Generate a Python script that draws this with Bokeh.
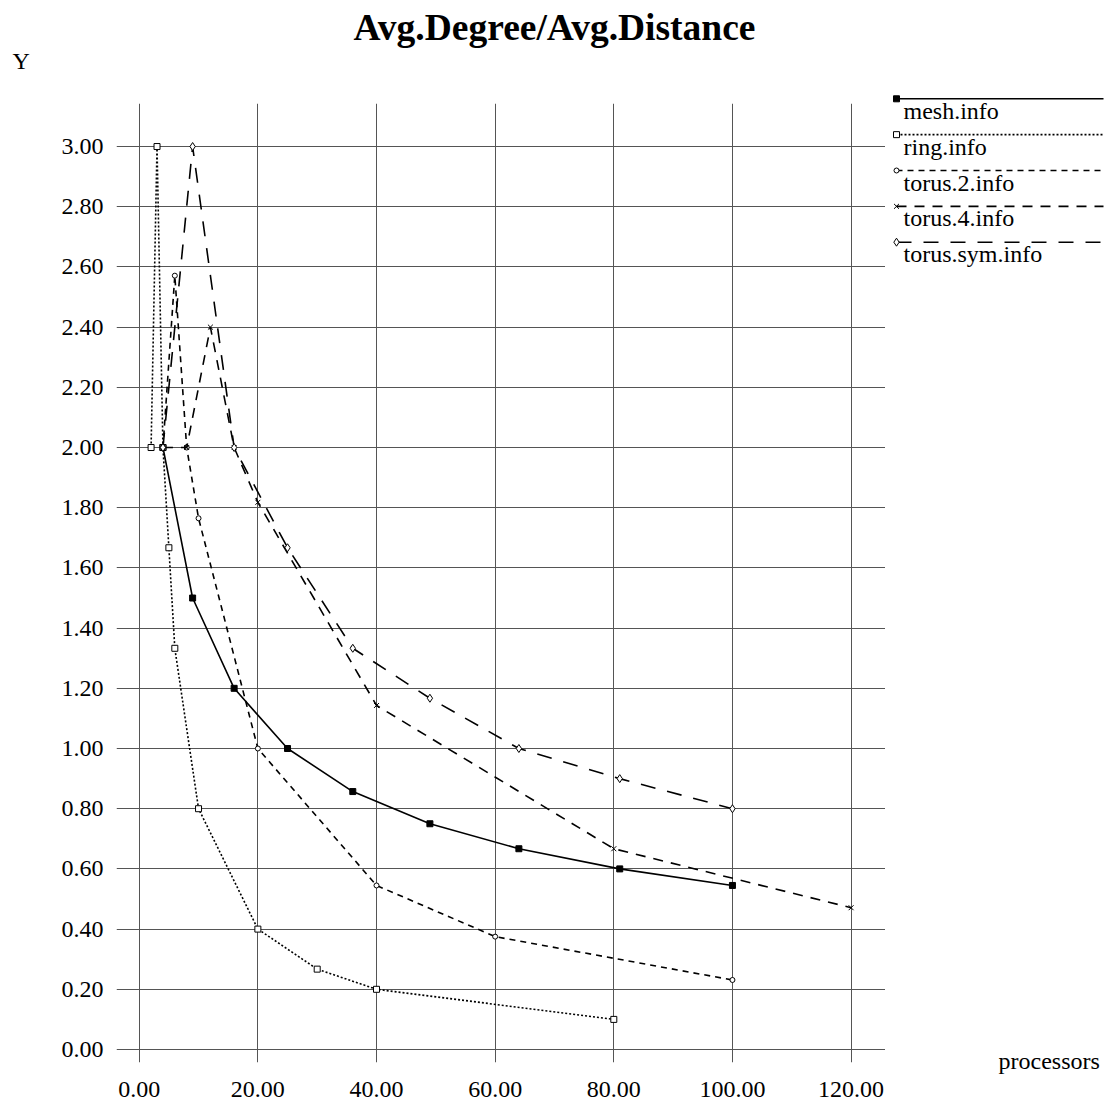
from bokeh.plotting import figure
from bokeh.models import Range1d, FixedTicker, NumeralTickFormatter
from bokeh.layouts import row, column
from bokeh.core.properties import value
from bokeh.embed import file_html
from bokeh.resources import INLINE

# ---- data ----
mesh_x = [4, 9, 16, 25, 36, 49, 64, 81, 100]
mesh_y = [2.0, 1.5, 1.2, 1.0, 0.857, 0.75, 0.667, 0.6, 0.545]

ring_x = [2, 3, 4, 5, 6, 10, 20, 30, 40, 80]
ring_y = [2.0, 3.0, 2.0, 1.667, 1.333, 0.8, 0.4, 0.267, 0.2, 0.1]

torus2_x = [4, 6, 8, 10, 20, 40, 60, 100]
torus2_y = [2.0, 2.571, 2.0, 1.765, 1.0, 0.545, 0.375, 0.231]

torus4_x = [4, 8, 12, 16, 20, 40, 80, 120]
torus4_y = [2.0, 2.0, 2.4, 2.0, 1.818, 1.143, 0.667, 0.471]

torussym_x = [4, 9, 16, 25, 36, 49, 64, 81, 100]
torussym_y = [2.0, 3.0, 2.0, 1.667, 1.333, 1.167, 1.0, 0.9, 0.8]

series_names = ["mesh.info", "ring.info", "torus.2.info", "torus.4.info", "torus.sym.info"]
x_ticks = [0, 20, 40, 60, 80, 100, 120]
y_ticks = [0.0, 0.2, 0.4, 0.6, 0.8, 1.0, 1.2, 1.4, 1.6, 1.8, 2.0, 2.2, 2.4, 2.6, 2.8, 3.0]

title_text = "Avg.Degree/Avg.Distance"
x_label = "processors"
y_label = "Y"

# ---- styles ----
FONT = "Liberation Serif"
FS = "24px"
styles = [
    dict(dash="solid", marker="square", size=6, fill="black"),
    dict(dash="2 2", marker="square", size=6, fill="white"),
    dict(dash="6 5", marker="circle", size=5, fill="white"),
    dict(dash="10 8", marker="x", size=7, fill="white"),
    dict(dash="15 12", marker="diamond", size=8, fill="white"),
]
data = [(mesh_x, mesh_y), (ring_x, ring_y), (torus2_x, torus2_y),
        (torus4_x, torus4_y), (torussym_x, torussym_y)]

W, H = 1108, 1105
TOP_H = 90
MAIN_W = 885
BODY_H = H - TOP_H


def blank(width, height, xr, yr):
    f = figure(width=width, height=height, output_backend="svg", toolbar_location=None,
               title=None, x_range=xr, y_range=yr,
               min_border=0, min_border_left=0, min_border_right=0,
               min_border_top=0, min_border_bottom=0)
    f.axis.visible = False
    f.grid.visible = False
    f.outline_line_color = None
    f.background_fill_color = "white"
    f.border_fill_color = "white"
    f.frame_align = False
    return f


# ---- top strip: title and y label ----
top = blank(W, TOP_H, Range1d(0, W), Range1d(TOP_H, 0))
top.text([554], [27], text=[title_text], text_font=value(FONT), text_font_size="37.5px",
         text_font_style="bold", text_align="center", text_baseline="alphabetic",
         text_color="black")
top.text([12], [60], text=[y_label], text_font=value(FONT), text_font_size=FS,
         text_align="left", text_baseline="alphabetic", text_color="black")

# ---- main chart ----
p = figure(width=MAIN_W, height=BODY_H, output_backend="svg", toolbar_location=None,
           title=None,
           x_range=Range1d(-3.83, 125.8), y_range=Range1d(-0.0432, 3.143),
           min_border_left=116, min_border_right=0, min_border_top=103 - TOP_H,
           min_border_bottom=H - 1062)
p.frame_align = False
p.outline_line_color = None
p.background_fill_color = "white"
p.border_fill_color = "white"

for ax in (p.xaxis, p.yaxis):
    ax.axis_line_color = None
    ax.major_tick_line_color = None
    ax.minor_tick_line_color = None
    ax.major_tick_out = 0
    ax.major_tick_in = 0
    ax.minor_tick_out = 0
    ax.major_label_text_font = FONT
    ax.major_label_text_font_size = FS
    ax.major_label_text_color = "black"
    ax.formatter = NumeralTickFormatter(format="0.00")
p.xaxis.ticker = FixedTicker(ticks=x_ticks)
p.yaxis.ticker = FixedTicker(ticks=y_ticks)
p.xaxis.major_label_standoff = 19
p.yaxis.major_label_standoff = 13

p.xgrid.ticker = FixedTicker(ticks=x_ticks)
p.ygrid.ticker = FixedTicker(ticks=y_ticks)
for g in (p.xgrid, p.ygrid):
    g.grid_line_color = "#555555"
    g.grid_line_width = 1

for (xs, ys), st in zip(data, styles):
    p.line(xs, ys, line_color="black", line_width=1.6, line_dash=st["dash"])
    p.scatter(xs, ys, marker=st["marker"], size=st["size"], line_color="black",
              fill_color=st["fill"], line_width=1)

# ---- legend panel on the right (pixel rows of the page) ----
lg = blank(W - MAIN_W, BODY_H, Range1d(MAIN_W, W), Range1d(H, TOP_H))

x0, x1 = 896, 1103
for i, (name, st) in enumerate(zip(series_names, styles)):
    ly = 98.3 + 35.85 * i
    lg.line([x0, x1], [ly, ly], line_color="black", line_width=1.6, line_dash=st["dash"])
    lg.scatter([x0], [ly], marker=st["marker"], size=st["size"], line_color="black",
               fill_color=st["fill"], line_width=1)
    lg.text([903], [ly + 12], text=[name], text_font=value(FONT), text_font_size=FS,
            text_baseline="alphabetic", text_align="left", text_color="black")

lg.text([998], [1060], text=[x_label], text_font=value(FONT), text_font_size=FS,
        text_baseline="alphabetic", text_align="left", text_color="black")

layout = column(top, row(p, lg, spacing=0), spacing=0)
open("out.html", "w").write(file_html(layout, INLINE))
